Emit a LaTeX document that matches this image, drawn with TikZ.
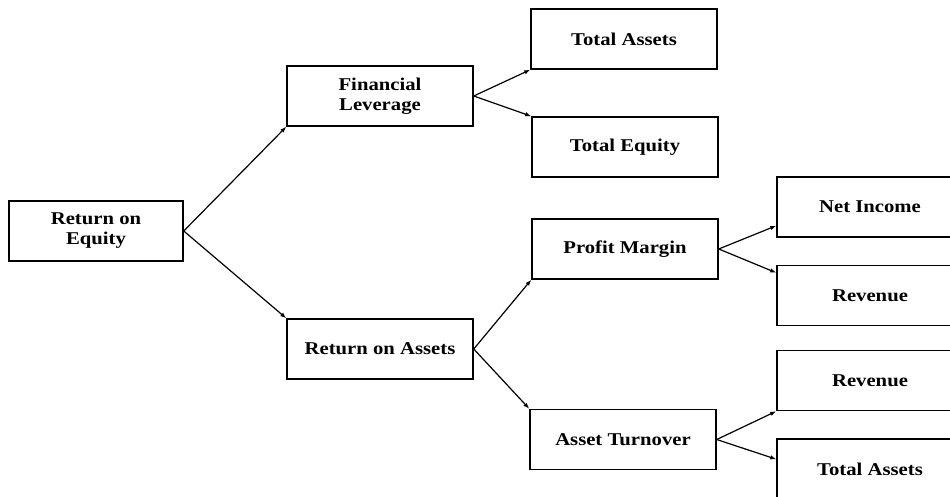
\documentclass[tikz,border=0pt]{standalone}
\usepackage{fontspec}
\setmainfont{Liberation Serif}[FakeStretch=1.15]
\usetikzlibrary{arrows.meta}
\newcommand{\BoxW}{186pt}
\newcommand{\BoxH}{60pt}
\tikzset{Box/.style={
    inner sep=0pt,
    minimum width=\BoxW,
    minimum height=\BoxH,
    draw=black,
    line width=1.5pt,
    fill=white,
    align=center,
    font=\fontsize{18}{20}\selectfont\bfseries,
    }
}

\begin{document}
\begin{tikzpicture}[x=1pt, y=-1pt,
    Link/.style={line width=1.2pt, -{Latex[length=6pt,width=4.5pt]}},
]
\useasboundingbox (0,0) rectangle (950,497);
\clip (0,0) rectangle (950,497);
\fill[white] (0,0) rectangle (950,497);
% first level
\node [Box, minimum width=174pt] (ROE) at (96,231) {Return on\\Equity};
% second level
\node [Box] (FinLev) at (380,96) {Financial\\Leverage};
\node [Box] (ROA) at (380,349) {Return on Assets};
% third level
\node [Box] (TotAss) at (624,39) {Total Assets};
\node [Box] (TotEq) at (625,147) {Total Equity};
\node [Box] (ProfMar) at (625,249) {Profit Margin};
\node [Box] (AssTurn) at (623,439.5) {Asset Turnover};
% fourth level, cut by the right edge
\node [Box] (NetInc) at (870,207) {Net Income};
\node [Box] (Rev) at (870,295.5) {Revenue};
\node [Box] (RevB) at (870,380.5) {Revenue};
\node [Box] (TotAssB) at (870,469) {Total Assets};
% links
\draw [Link] (ROE.east) -- (FinLev.south west);
\draw [Link] (ROE.east) -- (ROA.north west);
\draw [Link] (FinLev.east) -- (TotAss.south west);
\draw [Link] (FinLev.east) -- (TotEq.north west);
\draw [Link] (ROA.east) -- (ProfMar.south west);
\draw [Link] (ROA.east) -- (AssTurn.north west);
\draw [Link] (ProfMar.east) -- ([yshift=12pt]NetInc.south west);
\draw [Link] (ProfMar.east) -- ([yshift=-8pt]Rev.north west);
\draw [Link] (AssTurn.east) -- (RevB.south west);
\draw [Link] (AssTurn.east) -- ([yshift=-21pt]TotAssB.north west);
\end{tikzpicture}
\end{document}
